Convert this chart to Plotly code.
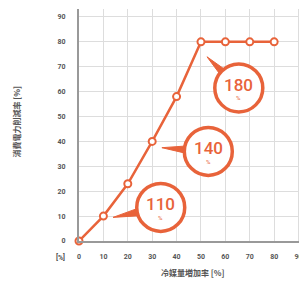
import plotly.graph_objects as go

# data
x_vals = [0, 10, 20, 30, 40, 50, 60, 70, 80]
y_vals = [0, 10, 23, 40, 58, 80, 80, 80, 80]
x_ticks = [0, 10, 20, 30, 40, 50, 60, 70, 80, 90]
y_ticks = [0, 10, 20, 30, 40, 50, 60, 70, 80, 90]
callout_labels = ["110", "140", "180"]
callout_x = [33.5, 53.0, 65.5]
callout_y = [13.5, 36.0, 61.5]
callout_tip_x = [14.0, 34.0, 52.5]
callout_tip_y = [9.5, 37.5, 74.0]

ORANGE = "#E8633A"
GRAY = "#555555"

fig = go.Figure()
fig.add_trace(go.Scatter(
    x=x_vals, y=y_vals, mode="lines+markers",
    line=dict(color=ORANGE, width=2.5),
    marker=dict(symbol="circle", size=7, color="white",
                line=dict(color=ORANGE, width=2)),
    cliponaxis=False, hoverinfo="skip", showlegend=False,
))

shapes = []
annotations = []
R = 24
px_per_x = 2.444
px_per_y = 2.489
for lab, cx, cy, tx, ty in zip(callout_labels, callout_x, callout_y, callout_tip_x, callout_tip_y):
    dx = (tx - cx) * px_per_x
    dy = (ty - cy) * px_per_y
    L = (dx * dx + dy * dy) ** 0.5
    ux, uy = dx / L, dy / L
    nx, ny = -uy, ux
    w = 7
    path = "M {:.1f},{:.1f} L {:.1f},{:.1f} L {:.1f},{:.1f} Z".format(
        nx * w, ny * w, dx, dy, -nx * w, -ny * w)
    shapes.append(dict(type="path", xref="x", yref="y", xsizemode="pixel", ysizemode="pixel",
                       xanchor=cx, yanchor=cy, path=path,
                       fillcolor=ORANGE, line=dict(color=ORANGE, width=1), layer="above"))
    shapes.append(dict(type="circle", xref="x", yref="y", xsizemode="pixel", ysizemode="pixel",
                       xanchor=cx, yanchor=cy, x0=-R, x1=R, y0=-R, y1=R,
                       fillcolor="white", line=dict(color=ORANGE, width=3.5), layer="above"))
    annotations.append(dict(x=cx, y=cy, xref="x", yref="y", text=lab,
                            showarrow=False, yshift=3,
                            font=dict(family="Roboto", size=17, color=ORANGE, weight=500)))
    annotations.append(dict(x=cx, y=cy, xref="x", yref="y", text="%",
                            showarrow=False, yshift=-10,
                            font=dict(family="Roboto", size=6, color=ORANGE)))

annotations.append(dict(x=0, y=0, xref="x", yref="y", text="<b>[%]</b>", showarrow=False,
                        xshift=-19, yshift=-16, font=dict(family="Roboto", size=7, color=GRAY)))
annotations.append(dict(x=45, y=0, xref="x", yref="y", text="<b>冷媒量増加率 [%]</b>",
                        showarrow=False, yshift=-31, xshift=4,
                        font=dict(family="Noto Sans CJK JP", size=8, color=GRAY)))
annotations.append(dict(x=0, y=48, xref="x", yref="y", text="<b>消費電力削減率 [%]</b>",
                        showarrow=False, textangle=-90, xshift=-62,
                        font=dict(family="Noto Sans CJK JP", size=8, color=GRAY)))

fig.update_layout(
    width=307, height=286,
    margin=dict(l=71, r=14, t=1, b=53, autoexpand=False),
    paper_bgcolor="white", plot_bgcolor="white",
    shapes=shapes, annotations=annotations,
    xaxis=dict(range=[0, 91], tickvals=x_ticks, ticktext=["<b>%d</b>" % v for v in x_ticks],
               showgrid=True, gridcolor="#DDDDDD", gridwidth=1, automargin=False,
               showline=True, linecolor="#999999", linewidth=2,
               zeroline=False, ticks="", ticklabelstandoff=8,
               tickfont=dict(family="Roboto", size=7, color=GRAY), fixedrange=True),
    yaxis=dict(range=[0, 93.2], tickvals=y_ticks, ticktext=["<b>%d</b>" % v for v in y_ticks],
               showgrid=True, gridcolor="#DDDDDD", gridwidth=1, automargin=False,
               showline=True, linecolor="#999999", linewidth=2,
               zeroline=False, ticks="", ticklabelstandoff=10,
               tickfont=dict(family="Roboto", size=7, color=GRAY), fixedrange=True),
    showlegend=False,
)

fig.write_html("out.html")
